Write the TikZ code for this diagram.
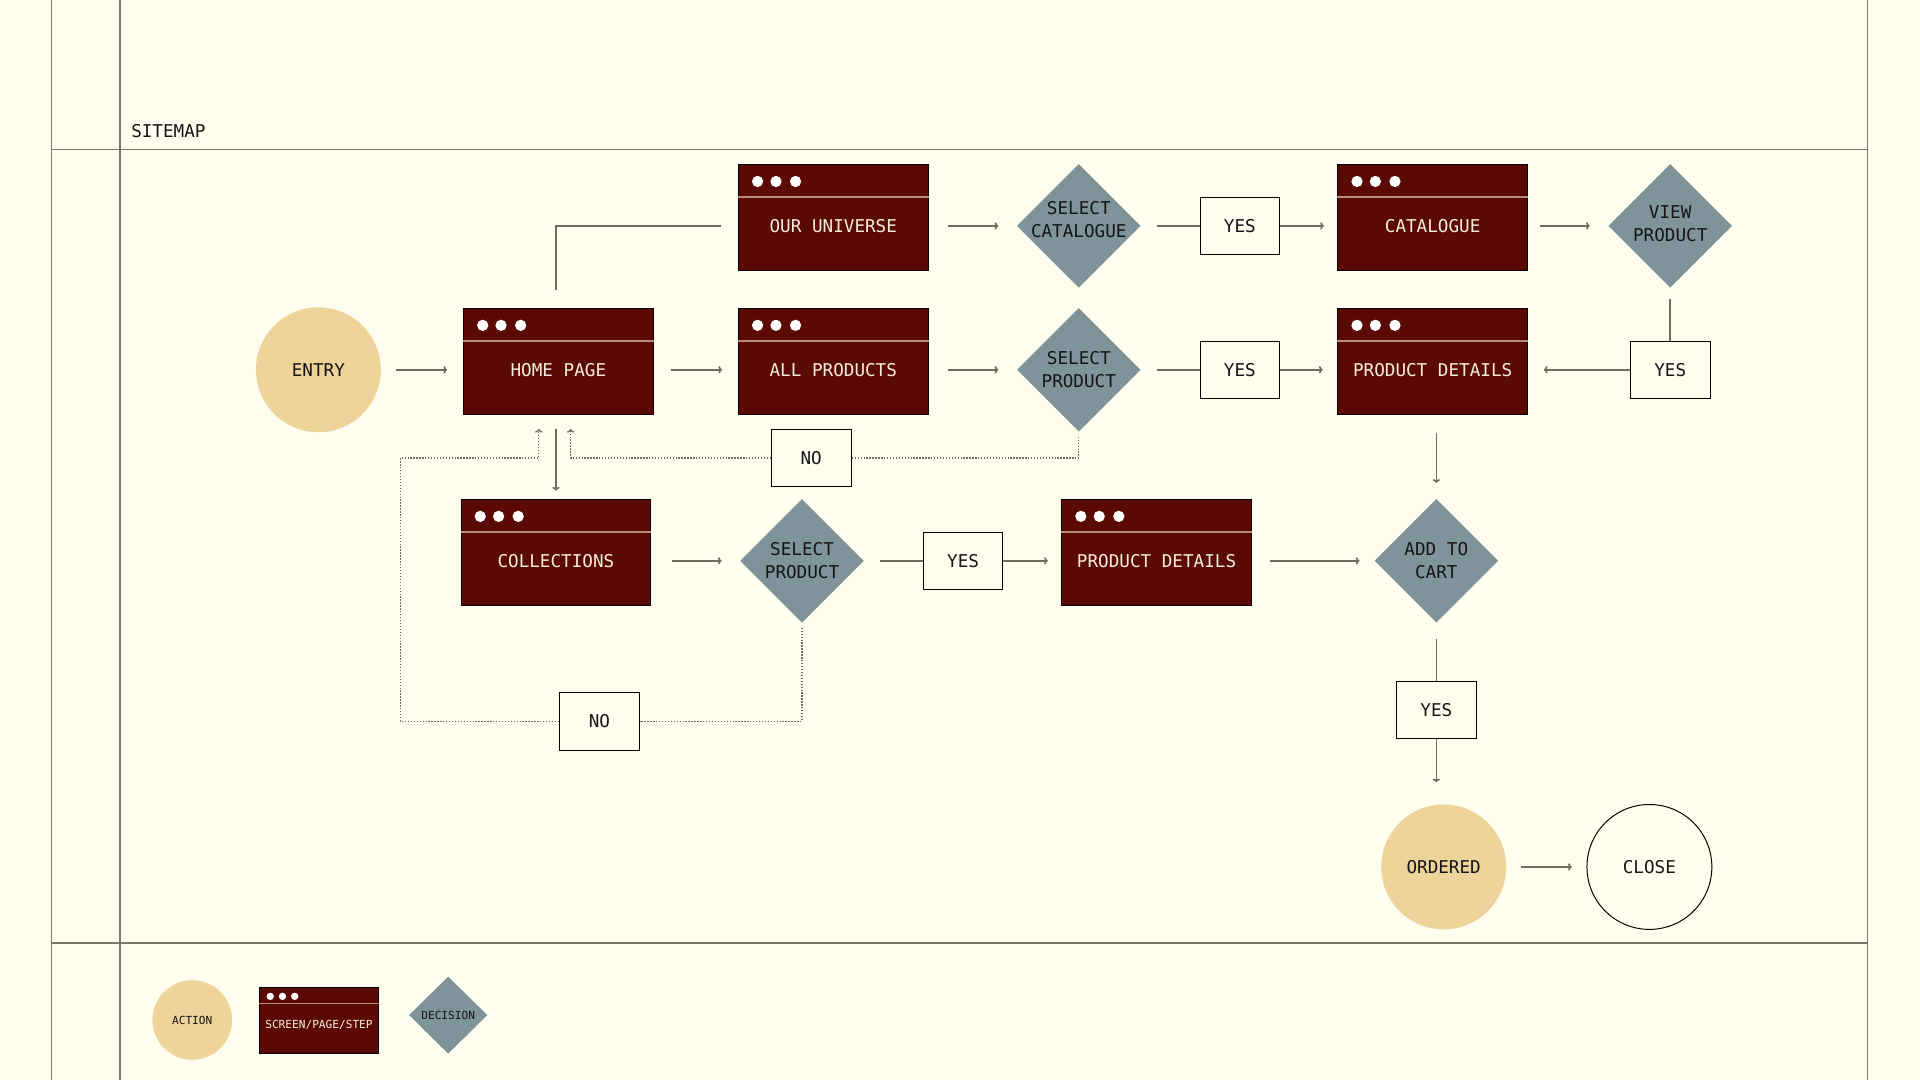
\documentclass[tikz,border=0pt]{standalone}
\usepackage{fontspec}
\usetikzlibrary{shapes.geometric,arrows.meta,calc}
\newfontfamily\monofnt{DejaVu Sans Mono}
\definecolor{bgc}{HTML}{FFFDEE}
\definecolor{framec}{HTML}{7B7869}
\definecolor{connc}{HTML}{6F6D62}
\definecolor{darkred}{HTML}{5A0A03}
\definecolor{hdrc}{HTML}{B58B80}
\definecolor{decc}{HTML}{7F939B}
\definecolor{actc}{HTML}{EED39A}
\definecolor{scrtextc}{HTML}{F6ECDD}
\definecolor{textc}{HTML}{151515}
\newcommand\bigfnt{\monofnt\fontsize{14.4}{19}\selectfont}
\newcommand\smallfnt{\monofnt\fontsize{9.1}{11}\selectfont}
\newcommand\scrn[4]{%
  \node[scr] (#1) at (#2,#3-7) {};
  \draw[hdrl] ([yshift=-27pt]#1.north west) -- ([yshift=-27pt]#1.north east);
  \foreach \dx in {16,31,47} \fill[white] ([xshift=\dx pt,yshift=-14pt]#1.north west) circle (4.6pt);
  \node[scrtext] (#1-t) at (#2,#3) {#4};
}
\begin{document}
\begin{tikzpicture}[x=1pt,y=-1pt,
  frame/.style={draw=framec, line width=1.3pt},
  conn/.style={draw=connc, line width=1.35pt},
  arr/.style={conn, -{To[length=3pt,width=6pt]}},
  dotc/.style={draw=connc, line width=1.1pt, dash pattern=on 1.1pt off 1.3pt},
  dotarr/.style={dotc, -{To[length=3pt,width=6pt]}},
  scr/.style={rectangle, fill=darkred, draw=black, line width=0.6pt, minimum width=155pt, minimum height=86pt, inner sep=0},
  hdrl/.style={draw=hdrc, line width=1.5pt},
  scrtext/.style={font=\bigfnt, text=scrtextc, inner sep=0},
  dec/.style={diamond, fill=decc, minimum width=101pt, minimum height=101pt, inner sep=0, aspect=1},
  dectext/.style={font=\bigfnt, text=textc, align=center, inner sep=0},
  act/.style={circle, fill=actc, minimum size=102pt, inner sep=0, font=\bigfnt, text=textc},
  lbl/.style={rectangle, draw=black, line width=0.8pt, fill=bgc, minimum width=65pt, minimum height=47pt, inner sep=0, font=\bigfnt, text=textc},
]
\useasboundingbox (0,0) rectangle (1568,882);
\fill[bgc] (0,0) rectangle (1568,882);
% frame
\draw[frame] (42,0) -- (42,882);
\draw[frame] (98,0) -- (98,882);
\draw[frame] (1525,0) -- (1525,882);
\draw[frame] (42,122) -- (1525,122);
\draw[frame] (42,770) -- (1525,770);
\node[anchor=west, font=\bigfnt, text=textc, inner sep=0] (sitemap) at (107,107) {SITEMAP};

% screens
\scrn{ouru}{680.5}{184.5}{OUR UNIVERSE}
\scrn{home}{456}{302}{HOME PAGE}
\scrn{allp}{680.5}{302}{ALL PRODUCTS}
\scrn{cat}{1170}{184.5}{CATALOGUE}
\scrn{pd1}{1170}{302}{PRODUCT DETAILS}
\scrn{coll}{454}{458}{COLLECTIONS}
\scrn{pd2}{944.5}{458}{PRODUCT DETAILS}

% decisions
\node[dec, label={[dectext, yshift=5pt]center:SELECT\\CATALOGUE}] (selcat) at (881,184.5) {};
\node[dec, label={[dectext, yshift=2pt]center:VIEW\\PRODUCT}] (viewp) at (1364,184.5) {};
\node[dec, label={[dectext]center:SELECT\\PRODUCT}] (selp1) at (881,302) {};
\node[dec, label={[dectext]center:SELECT\\PRODUCT}] (selp2) at (655,458) {};
\node[dec, label={[dectext]center:ADD TO\\CART}] (atc) at (1173,458) {};

% actions
\node[act] (entry) at (260,302) {ENTRY};
\node[act] (ordered) at (1179,708) {ORDERED};
\node[act, fill=none, draw=black, line width=0.8pt] (close) at (1347,708) {CLOSE};

% labels
\node[lbl] (yes1) at (1012.5,184.5) {YES};
\node[lbl] (yes2) at (1012.5,302) {YES};
\node[lbl] (yes3) at (1364,302) {YES};
\node[lbl] (no1) at (662.5,374) {NO};
\node[lbl] (yes4) at (786.5,458) {YES};
\node[lbl] (no2) at (489.5,589) {NO};
\node[lbl] (yes5) at (1173,580) {YES};

% connectors
\draw[arr, shorten <=12pt, shorten >=13pt] (entry.east) -- (home-t -| home.west);
\draw[arr, shorten <=14pt, shorten >=13pt] (home-t -| home.east) -- (allp-t -| allp.west);
\draw[arr, shorten <=16pt, shorten >=15pt] (allp-t -| allp.east) -- (selp1.west);
\draw[conn, shorten <=13pt] (selp1.east) -- (yes2.west);
\draw[arr, shorten >=12pt] (yes2.east) -- (pd1-t -| pd1.west);
\draw[conn] ([yshift=15pt,xshift=-2pt]home.north) |- ([xshift=-14pt]ouru-t -| ouru.west);
\draw[arr, shorten <=16pt, shorten >=15pt] (ouru-t -| ouru.east) -- (selcat.west);
\draw[conn, shorten <=13pt] (selcat.east) -- (yes1.west);
\draw[arr, shorten >=11pt] (yes1.east) -- (cat-t -| cat.west);
\draw[arr, shorten <=10pt, shorten >=15pt] (cat-t -| cat.east) -- (viewp.west);
\draw[conn, shorten <=9pt] (viewp.south) -- (yes3.north);
\draw[arr, shorten >=13pt] (yes3.west) -- (pd1-t -| pd1.east);
\draw[arr, shorten <=15pt, shorten >=13pt] (pd1.south -| atc.north) -- (atc.north);
\draw[arr, shorten <=12pt, shorten >=7pt] ([xshift=-2pt]home.south) -- ([xshift=-2pt]home.south |- coll.north);
\draw[arr, shorten <=17pt, shorten >=15pt] (coll-t -| coll.east) -- (selp2.west);
\draw[conn, shorten <=13pt] (selp2.east) -- (yes4.west);
\draw[arr, shorten >=11pt] (yes4.east) -- (pd2-t -| pd2.west);
\draw[arr, shorten <=15pt, shorten >=12pt] (pd2-t -| pd2.east) -- (atc.west);
\draw[conn, shorten <=13pt] (atc.south) -- (yes5.north);
\draw[arr, shorten >=18pt] (yes5.south) -- (yes5.south |- ordered.north);
\draw[arr, shorten <=12pt, shorten >=12pt] (ordered.east) -- (close.west);
% dotted returns
\draw[dotc, shorten <=4pt] (selp1.south) |- (no1.east);
\draw[dotarr, shorten >=12pt] (no1.west) -| ([xshift=10pt]home.south);
\draw[dotc, shorten <=4pt] (selp2.south) |- (no2.east);
\coordinate (lp) at (327,374);
\draw[dotarr, shorten >=12pt] (no2.west) -| (lp) -| ([xshift=-16pt]home.south);

% legend
\node[act, minimum size=65pt, font=\smallfnt] (lact) at (157,833) {ACTION};
\node[scr, minimum width=97pt, minimum height=54pt] (lscr) at (260.5,833) {};
\draw[hdrl, line width=1.1pt] ([yshift=-14pt]lscr.north west) -- ([yshift=-14pt]lscr.north east);
\foreach \dx in {9,19,29} \fill[white] ([xshift=\dx pt,yshift=-8pt]lscr.north west) circle (3pt);
\node[font=\smallfnt, text=scrtextc, inner sep=0] (lscr-t) at (260.5,837) {SCREEN/PAGE/STEP};
\node[dec, minimum width=64pt, minimum height=63pt, label={[font=\smallfnt, text=textc, inner sep=0]center:DECISION}] (ldec) at (366,829) {};
\end{tikzpicture}
\end{document}
